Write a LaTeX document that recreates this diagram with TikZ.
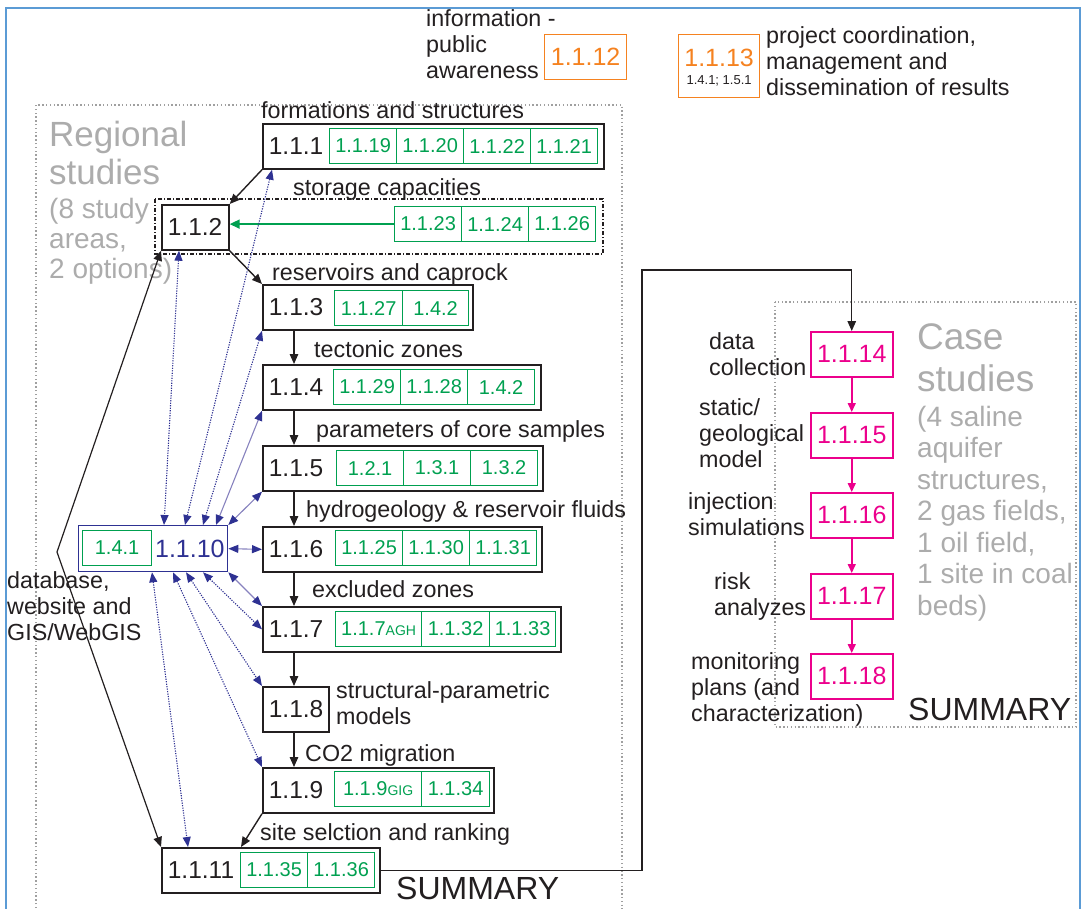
\documentclass[tikz,border=0pt]{standalone}
\usepackage{fontspec}
\setmainfont{Liberation Sans}
\usetikzlibrary{arrows.meta}
\definecolor{dk}{RGB}{35,31,32}
\definecolor{grn}{RGB}{0,160,80}
\definecolor{org}{RGB}{245,130,32}
\definecolor{pnk}{RGB}{236,0,140}
\definecolor{nvy}{RGB}{46,49,146}
\definecolor{lav}{RGB}{135,130,190}
\definecolor{gtx}{RGB}{172,172,172}
\definecolor{gdot}{RGB}{160,160,160}
\definecolor{frm}{RGB}{91,155,213}
\newcommand\fsz[2]{\fontsize{#1}{#2}\selectfont}
\tikzset{
  btip/.tip={Triangle[length=10pt,width=8.5pt]},
  ntip/.tip={Triangle[length=10pt,width=8pt,color=nvy]},
  gtip/.tip={Triangle[length=10pt,width=9pt,color=grn]},
  ptip/.tip={Triangle[length=9pt,width=8pt,color=pnk]},
}
\begin{document}
\begin{tikzpicture}[x=1pt,y=-1pt,
  mbox/.style={draw=dk,line width=1.7pt,text=dk,font=\fsz{24.5}{26},inner xsep=6pt,inner ysep=0pt,minimum height=45pt,anchor=north west,align=left},
  cell/.style={draw=grn,line width=1.2pt,text=grn,font=\fsz{20}{22},inner sep=0pt,minimum height=35pt,anchor=north west},
  pbox/.style={draw=pnk,line width=1.5pt,text=pnk,font=\fsz{25}{27},inner sep=0pt,minimum width=82pt,minimum height=45pt,anchor=north west},
  obox/.style={draw=org,line width=1.2pt,text=org,font=\fsz{25}{27},inner sep=0pt,anchor=north west},
  lbl/.style={text=dk,font=\fsz{23.3}{26},inner sep=0pt,align=left},
  gbig/.style={text=gtx,inner sep=0pt,align=left},
  blk/.style={draw=dk,line width=1.4pt,arrows={-btip}},
  dotn/.style={draw=nvy,line width=1.1pt,dash pattern=on 1.2pt off 1.3pt,arrows={ntip-ntip}},
  soln/.style={draw=lav,line width=1.1pt,arrows={ntip-ntip}},
  gdotted/.style={draw=gdot,line width=1.3pt,dash pattern=on 1.4pt off 2.4pt},
]
\useasboundingbox (0,0) rectangle (1082,908);
% frames
\draw[frm,line width=1.2pt] (6,912) -- (6,8) -- (1080,8) -- (1080,912);
\draw[gdotted] (36,912) -- (36,105) -- (622,105) -- (622,912);
\draw[gdotted] (775,302) rectangle (1076,727);
\draw[draw=dk,line width=1.5pt,dash pattern=on 4pt off 2pt on 1pt off 2pt] (155,199) rectangle (603,254);

% top
\node[lbl,anchor=north west] (tinfo) at (426,9) {information -\\public\\awareness};
\node[obox,minimum width=82pt,minimum height=45pt] (o12) at (544,34) {1.1.12};
\node[obox,minimum width=81pt,minimum height=63pt] (o13) at (678,34) {};
\node[text=org,font=\fsz{25}{27},inner sep=0pt,anchor=base] (o13t) at ([yshift=-32pt]o13.north) {1.1.13};
\node[text=dk,font=\fsz{13}{14},inner sep=0pt,anchor=base] (o13s) at ([yshift=-50pt]o13.north) {1.4.1; 1.5.1};
\node[lbl,anchor=north west] (tproj) at (766,26) {project coordination,\\management and\\dissemination of results};

% titles
\node[gbig,font=\fsz{35}{38},anchor=north west] (treg) at (49,120.5) {Regional\\studies};
\node[gbig,font=\fsz{28}{30},anchor=north west] (treg2) at (49,197.6) {(8 study\\areas,\\2 options)};
\node[gbig,font=\fsz{37}{42},anchor=north west] (tcase) at (917,323) {Case\\studies};
\node[gbig,font=\fsz{28}{31.5},anchor=north west] (tcase2) at (917,405.6) {(4 saline\\aquifer\\structures,\\2 gas fields,\\1 oil field,\\1 site in coal\\beds)};

% main boxes
\node[mbox,text width=329pt] (b1) at (262,123) {1.1.1};
\node[mbox,text width=55pt] (b2) at (161,204) {1.1.2};
\node[mbox,text width=198pt] (b3) at (262,284) {1.1.3};
\node[mbox,text width=266pt] (b4) at (262,364) {1.1.4};
\node[mbox,text width=268pt] (b5) at (262,445) {1.1.5};
\node[mbox,text width=267pt] (b6) at (262,526) {1.1.6};
\node[mbox,text width=286pt] (b7) at (262,606) {1.1.7};
\node[mbox,text width=54pt] (b8) at (262,686) {1.1.8};
\node[mbox,text width=219pt] (b9) at (262,767) {1.1.9};
\node[mbox,text width=206pt] (b11) at (161,847) {1.1.11};
\node[draw=nvy,line width=1.3pt,text=nvy,font=\fsz{25}{27},inner xsep=3pt,inner ysep=0pt,text width=143pt,align=right,minimum height=46pt,anchor=north west] (b10) at (78,525) {1.1.10};

% green cells
\node[cell,minimum width=67pt] (c1a) at (329,128) {1.1.19};
\node[cell,minimum width=67pt] (c1b) at (396,128) {1.1.20};
\node[cell,minimum width=67pt] (c1c) at (463,128) {1.1.22};
\node[cell,minimum width=67pt] (c1d) at (530,128) {1.1.21};
\node[cell,minimum width=67pt] (g23) at (394,206) {1.1.23};
\node[cell,minimum width=67pt] (g24) at (461,206) {1.1.24};
\node[cell,minimum width=67pt] (g26) at (528,206) {1.1.26};
\node[cell,minimum width=68pt] (c3a) at (334,290) {1.1.27};
\node[cell,minimum width=66pt] (c3b) at (402,290) {1.4.2};
\node[cell,minimum width=67pt] (c4a) at (333,369) {1.1.29};
\node[cell,minimum width=67pt] (c4b) at (400,369) {1.1.28};
\node[cell,minimum width=67pt] (c4c) at (467,369) {1.4.2};
\node[cell,minimum width=67pt] (c5a) at (336,450) {1.2.1};
\node[cell,minimum width=67pt] (c5b) at (403,450) {1.3.1};
\node[cell,minimum width=67pt] (c5c) at (470,450) {1.3.2};
\node[cell,minimum width=67pt] (c6a) at (335,530) {1.1.25};
\node[cell,minimum width=67pt] (c6b) at (402,530) {1.1.30};
\node[cell,minimum width=67pt] (c6c) at (469,530) {1.1.31};
\node[cell,minimum width=86pt] (c7a) at (335,611) {1.1.7{\fsz{14}{14}AGH}};
\node[cell,minimum width=68pt] (c7b) at (421,611) {1.1.32};
\node[cell,minimum width=66pt] (c7c) at (489,611) {1.1.33};
\node[cell,minimum width=87pt] (c9a) at (334,771) {1.1.9{\fsz{14}{14}GIG}};
\node[cell,minimum width=68pt] (c9b) at (421,771) {1.1.34};
\node[cell,minimum width=67pt] (c11a) at (240,852) {1.1.35};
\node[cell,minimum width=67pt] (c11b) at (307,852) {1.1.36};
\node[cell,minimum width=69pt] (c10) at (82,530) {1.4.1};

% labels
\node[lbl,anchor=base west] (l1) at (261,118) {formations and structures};
\node[lbl,anchor=base west] (l2) at (293,195) {storage capacities};
\node[lbl,anchor=base west] (l3) at (272,280) {reservoirs and caprock};
\node[lbl,anchor=base west] (l4) at (314,357) {tectonic zones};
\node[lbl,anchor=base west] (l5) at (316,437) {parameters of core samples};
\node[lbl,anchor=base west] (l6) at (306,517) {hydrogeology \& reservoir fluids};
\node[lbl,anchor=base west] (l7) at (312,597) {excluded zones};
\node[lbl,anchor=north west] (l8) at (336,681) {structural-parametric\\models};
\node[lbl,anchor=base west] (l9) at (305,761) {CO2 migration};
\node[lbl,anchor=base west] (l11) at (260,840) {site selction and ranking};
\node[lbl,anchor=north west] (ldb) at (7,571) {database,\\website and\\GIS/WebGIS};
\node[text=dk,font=\fsz{32}{34},inner sep=0pt,anchor=base west] (sum1) at (396,899) {SUMMARY};
\node[text=dk,font=\fsz{32}{34},inner sep=0pt,anchor=base west] (sum2) at (908,720) {SUMMARY};

% case studies
\node[pbox] (p14) at (810,331) {1.1.14};
\node[pbox] (p15) at (810,412) {1.1.15};
\node[pbox] (p16) at (810,492) {1.1.16};
\node[pbox] (p17) at (810,573) {1.1.17};
\node[pbox] (p18) at (810,653) {1.1.18};
\node[lbl,anchor=north west] (pl14) at (709,332) {data\\collection};
\node[lbl,anchor=north west] (pl15) at (699,398) {static/\\geological\\model};
\node[lbl,anchor=north west] (pl16) at (688,492) {injection\\simulations};
\node[lbl,anchor=north west] (pl17) at (714,572) {risk\\analyzes};
\node[lbl,anchor=north west] (pl18) at (691,652) {monitoring\\plans (and\\characterization)};

% connectors
\draw[blk] (b1.south west) -- (b2.north east);
\draw[blk] (b2.south east) -- (b3.north west);
\foreach \a/\b in {b3/b4,b4/b5,b5/b6,b6/b7,b7/b8,b8/b9}
  \draw[blk] ([xshift=32pt]\a.south west) -- ([xshift=32pt]\b.north west);
\draw[blk] (b9.south west) -- ([xshift=80pt]b11.north west);
\coordinate (kink) at (57,552);
\draw[draw=dk,line width=1.2pt,arrows={btip-btip}] (b2.south west) -- (kink) -- (b11.north west);
\coordinate (via) at (642,270);
\draw[blk] (b11.east) -| (via) -| (p14.north);
\draw[draw=grn,line width=1.8pt,arrows={-gtip}] (g23.west) -- (g23.west -| b2.east);
\foreach \a/\b in {p14/p15,p15/p16,p16/p17,p17/p18}
  \draw[draw=pnk,line width=1.5pt,arrows={-ptip}] (\a.south) -- (\b.north);

% database links
\draw[dotn] ([xshift=18pt]b2.south west) -- ([xshift=86pt]b10.north west);
\draw[dotn] ([xshift=10pt]b1.south west) -- ([xshift=107pt]b10.north west);
\draw[dotn] (b3.south west) -- ([xshift=125pt]b10.north west);
\draw[soln] (b4.south west) -- ([xshift=138pt]b10.north west);
\draw[soln] (b5.south west) -- (b10.north east);
\draw[soln] (b10.east) -- (b6.west);
\draw[soln] (b10.south east) -- (b7.north west);
\draw[dotn] ([xshift=125pt]b10.south west) -- (b7.west);
\draw[dotn] ([xshift=108pt]b10.south west) -- (b8.north west);
\draw[dotn] ([xshift=95pt]b10.south west) -- (b9.north west);
\draw[dotn] ([xshift=74pt]b10.south west) -- ([xshift=27pt]b11.north west);
\end{tikzpicture}
\end{document}
